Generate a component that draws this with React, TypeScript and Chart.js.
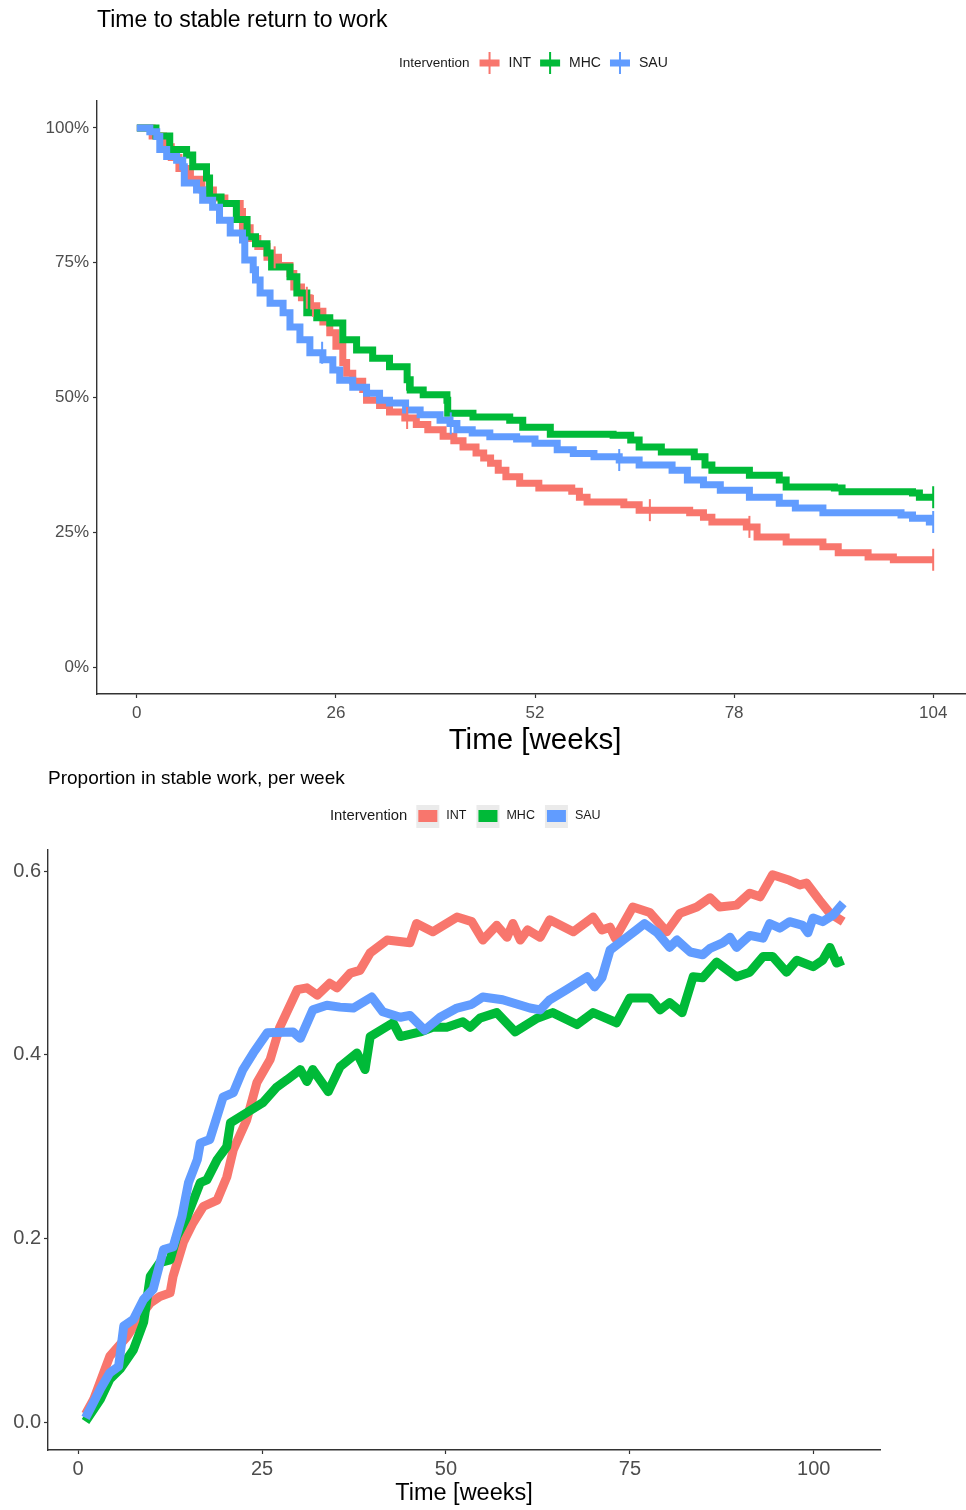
import React, { useEffect, useRef } from 'react';
import { Chart, registerables } from 'chart.js';

Chart.register(...registerables);

const FONT = '"Liberation Sans", Arial, Helvetica, sans-serif';

const GROUPS = ['INT', 'MHC', 'SAU'];
const COLORS = ['#F8766D', '#00BA38', '#619CFF'];

// ---------- Top chart: Kaplan-Meier, time to stable return to work ----------
const kmIntWeeks = [0, 2, 3.5, 4.5, 5.5, 7, 8.5, 10, 11.5, 13.5, 13.8, 14.8, 15.8, 17, 18.5, 20, 20.5, 21.5, 22.5, 23.5, 24.3, 25.2, 26, 26.9, 27.4, 28.2, 29.5, 30, 31.7, 33, 35, 36.5, 38, 40, 41.4, 42.6, 44.3, 45.3, 46.2, 47.2, 48.2, 50, 52.5, 56.8, 57.8, 58.8, 63.6, 65.6, 72.2, 74, 75.1, 79.6, 81, 84.8, 89.6, 91.6, 95.5, 98.8, 104];
const kmIntSurv = [100, 98.5, 96.5, 94.5, 92.5, 90.5, 88.5, 87, 86, 84.5, 81.5, 79.5, 78, 76, 74.5, 73, 70.5, 68.5, 67, 66, 64, 62, 59.5, 56.5, 54.5, 53, 51.5, 49.5, 48.5, 47.3, 46.2, 45, 44, 42.8, 42, 40.8, 39.7, 38.8, 37.8, 36.5, 35.3, 34.1, 33.2, 32.6, 31.5, 30.6, 30.1, 29.1, 28.6, 27.8, 26.9, 26, 24.1, 23.2, 22.3, 21.2, 20.4, 19.9, 19.9];
const kmMhcWeeks = [0, 2.5, 4.3, 6.5, 7.3, 9.1, 9.5, 11, 13, 14.4, 15.5, 17, 17.6, 20, 20.9, 22.2, 23.5, 25.2, 26.9, 28.7, 30.8, 33, 35.3, 35.7, 37.4, 40.5, 40.6, 43.9, 48.7, 50.4, 54, 62.2, 64.5, 65.6, 68.5, 72.8, 74.2, 75.1, 80, 83.9, 84.8, 91.1, 92.1, 101.3, 102.2, 104];
const kmMhcSurv = [100, 98.5, 96, 95, 92.8, 90.7, 87.2, 86, 83, 79.8, 78.5, 76.8, 74.2, 72.4, 69.4, 65.7, 64.8, 63.8, 60.7, 58.8, 57.3, 55.7, 53.3, 51.4, 50.5, 49.5, 47.1, 46.4, 45.8, 44.5, 43.2, 43, 42.1, 40.8, 39.9, 39, 37.5, 36.5, 35.6, 34.7, 33.4, 33.2, 32.5, 32.3, 31.5, 31.5];
const kmSauWeeks = [0, 1.7, 2.6, 3, 3.9, 5.2, 6, 6.2, 7.8, 8.6, 9.9, 10.8, 12.2, 13.8, 14.1, 15.2, 15.5, 16.1, 17.4, 19.1, 20, 21.3, 22.6, 24.3, 25.6, 26.5, 28.2, 30, 31.7, 33, 35.1, 37, 39.6, 40.9, 41.8, 43.8, 46.1, 49.6, 52, 54.9, 57, 59.7, 63, 65.6, 69.9, 71.9, 74, 76.2, 80, 83.9, 86, 89.6, 99.8, 101.3, 103.5, 104];
const kmSauSurv = [100, 99.3, 98.4, 96, 94.7, 94, 92.8, 89.8, 88.5, 86.6, 85.3, 82.9, 80.5, 79.2, 75.5, 73.7, 71.8, 69.4, 67.5, 65.7, 63.1, 60.7, 58.3, 57, 55.1, 53.2, 51.9, 50.8, 49.5, 49, 47.7, 46.8, 45.8, 45.2, 44, 43.4, 42.7, 42.3, 41.5, 40.3, 39.6, 39, 38.4, 37.5, 36.5, 34.7, 33.8, 32.8, 31.5, 30.4, 29.5, 28.6, 28.2, 27.6, 26.9, 26.9];

// censoring times (weeks)
const kmIntCensored = [18, 22.2, 23, 35.3, 67, 80, 104];
const kmMhcCensored = [35.3, 104];
const kmSauCensored = [24.2, 41, 63, 104];

const kmTicksX = [0, 26, 52, 78, 104];
const kmTicksY = [0, 25, 50, 75, 100];

// ---------- Bottom chart: proportion in stable work per week ----------
const propIntWeeks = [1, 2.1, 4.3, 6.6, 8.4, 9.8, 11.1, 12.5, 12.9, 14.3, 15.6, 17, 18.9, 20.2, 21.1, 22.9, 24.3, 26.1, 27.4, 29.8, 31.1, 32.5, 34.2, 35.2, 37, 38.3, 39.7, 42, 45.1, 46, 48.2, 51.5, 53.5, 55, 56.9, 58.3, 59.1, 60.1, 61.1, 62.8, 64.1, 67.3, 70, 71.2, 72.3, 73, 75.4, 77.7, 80, 81.8, 84.1, 85.9, 87.2, 89.5, 91.3, 92.7, 94.4, 96.7, 98.1, 99, 100.8, 102.2, 104];
const propIntValues = [0.009, 0.025, 0.072, 0.093, 0.115, 0.13, 0.137, 0.141, 0.159, 0.196, 0.217, 0.235, 0.242, 0.267, 0.297, 0.329, 0.37, 0.395, 0.43, 0.471, 0.473, 0.465, 0.478, 0.473, 0.489, 0.492, 0.511, 0.525, 0.522, 0.543, 0.534, 0.55, 0.545, 0.525, 0.541, 0.528, 0.543, 0.525, 0.536, 0.528, 0.547, 0.534, 0.55, 0.536, 0.539, 0.527, 0.561, 0.555, 0.534, 0.554, 0.561, 0.571, 0.561, 0.563, 0.576, 0.572, 0.596, 0.59, 0.585, 0.587, 0.568, 0.554, 0.545];
const propMhcWeeks = [1, 3, 4.3, 5.7, 7.5, 8.9, 9.8, 11.1, 12.5, 13.4, 14.8, 16.6, 17.5, 18.9, 20.2, 20.7, 22.9, 25.1, 27, 28.4, 30.2, 31.1, 31.9, 34, 35.6, 37.9, 39, 39.7, 42.8, 43.8, 46.5, 48.2, 50.1, 52.3, 53.3, 54.6, 56.9, 59.4, 62.4, 64.5, 67.8, 70, 73.2, 75, 77.7, 79.1, 80.4, 82.1, 83.6, 84.9, 86.8, 89.5, 91.3, 93.1, 94.4, 96.3, 97.7, 99.9, 101.2, 102.2, 103.1, 104];
const propMhcValues = [0.001, 0.025, 0.047, 0.058, 0.079, 0.109, 0.159, 0.174, 0.177, 0.202, 0.224, 0.261, 0.264, 0.286, 0.3, 0.326, 0.337, 0.348, 0.365, 0.373, 0.384, 0.371, 0.384, 0.36, 0.387, 0.402, 0.384, 0.42, 0.435, 0.42, 0.425, 0.43, 0.43, 0.436, 0.43, 0.44, 0.446, 0.425, 0.44, 0.446, 0.433, 0.446, 0.435, 0.462, 0.462, 0.449, 0.457, 0.446, 0.485, 0.484, 0.501, 0.485, 0.49, 0.507, 0.507, 0.49, 0.503, 0.496, 0.503, 0.517, 0.5, 0.503];
const propSauWeeks = [1, 3, 4.3, 5.5, 6.2, 7.5, 8.9, 10.2, 11.6, 12.9, 14.1, 15, 16.2, 16.6, 17.9, 19.7, 21.1, 22.4, 23.8, 25.7, 29.2, 30.2, 31.9, 33.8, 35.6, 37.4, 39.9, 41.4, 43.8, 45.1, 47.1, 49.2, 51.5, 53.5, 55, 57.7, 61.4, 62.8, 64.1, 66.4, 69.2, 70.2, 71.2, 72.3, 74.1, 75.9, 77, 78.7, 80.4, 81.4, 83.2, 84.9, 85.9, 87.6, 88.6, 89.5, 91.3, 93.1, 94, 95.4, 96.7, 98.5, 99.2, 99.9, 101.2, 102.6, 104];
const propSauValues = [0.005, 0.036, 0.054, 0.061, 0.105, 0.112, 0.134, 0.145, 0.188, 0.191, 0.224, 0.261, 0.286, 0.304, 0.308, 0.354, 0.359, 0.384, 0.402, 0.424, 0.425, 0.418, 0.449, 0.454, 0.452, 0.451, 0.463, 0.447, 0.441, 0.443, 0.427, 0.441, 0.451, 0.455, 0.463, 0.46, 0.451, 0.449, 0.46, 0.471, 0.485, 0.474, 0.484, 0.514, 0.525, 0.536, 0.543, 0.533, 0.517, 0.525, 0.512, 0.509, 0.516, 0.522, 0.528, 0.517, 0.53, 0.527, 0.543, 0.538, 0.545, 0.541, 0.533, 0.549, 0.545, 0.552, 0.565];

const propTicksX = [0, 25, 50, 75, 100];
const propTicksY = [0, 0.2, 0.4, 0.6];

// ---------- helpers ----------
const kmWeeks = [kmIntWeeks, kmMhcWeeks, kmSauWeeks];
const kmSurv = [kmIntSurv, kmMhcSurv, kmSauSurv];
const kmCensored = [kmIntCensored, kmMhcCensored, kmSauCensored];
const propWeeks = [propIntWeeks, propMhcWeeks, propSauWeeks];
const propValues = [propIntValues, propMhcValues, propSauValues];

function survAt(weeks: number[], surv: number[], t: number) {
  let v = surv[0];
  for (let i = 0; i < weeks.length; i++) if (weeks[i] <= t) v = surv[i];
  return v;
}

const TICK_COLOR = '#4d4d4d';
const AXIS_COLOR = '#333333';

function axisCommon(fontSize: number, padding: number) {
  return {
    grid: { display: true, drawOnChartArea: false, drawTicks: true, tickLength: 4, tickColor: AXIS_COLOR, tickWidth: 1.2 },
    border: { display: true, color: AXIS_COLOR, width: 1.4 },
    ticks: { font: { family: FONT, size: fontSize }, color: TICK_COLOR, padding, maxRotation: 0, autoSkip: false },
  };
}

const topTextPlugin = {
  id: 'topText',
  afterDraw(chart: any) {
    const ctx = chart.ctx;
    ctx.save();
    ctx.fillStyle = '#000';
    ctx.textBaseline = 'middle';
    ctx.font = `23px ${FONT}`;
    ctx.fillText('Time to stable return to work', 97, 21);
    const y = 63;
    let x = 399;
    ctx.font = `13.5px ${FONT}`;
    ctx.fillStyle = '#1a1a1a';
    ctx.fillText('Intervention', x, y);
    x += ctx.measureText('Intervention').width + 10;
    ctx.font = `14px ${FONT}`;
    GROUPS.forEach((g, i) => {
      ctx.fillStyle = COLORS[i];
      ctx.fillRect(x, y - 3.5, 20, 7);
      ctx.fillRect(x + 9, y - 11, 2, 22);
      x += 29;
      ctx.fillStyle = '#1a1a1a';
      ctx.fillText(g, x, y);
      x += ctx.measureText(g).width + 9;
    });
    ctx.restore();
  },
};

const bottomTextPlugin = {
  id: 'bottomText',
  afterDraw(chart: any) {
    const ctx = chart.ctx;
    ctx.save();
    ctx.fillStyle = '#000';
    ctx.textBaseline = 'middle';
    ctx.font = `19px ${FONT}`;
    ctx.fillText('Proportion in stable work, per week', 48, 19);
    const y = 56;
    let x = 330;
    ctx.font = `14.8px ${FONT}`;
    ctx.fillStyle = '#1a1a1a';
    ctx.fillText('Intervention', x, y);
    x += ctx.measureText('Intervention').width + 9;
    ctx.font = `12.5px ${FONT}`;
    GROUPS.forEach((g, i) => {
      ctx.fillStyle = '#ebebeb';
      ctx.fillRect(x, y - 11, 23, 23);
      ctx.fillStyle = COLORS[i];
      ctx.fillRect(x + 2, y - 6, 19, 12);
      x += 30;
      ctx.fillStyle = '#1a1a1a';
      ctx.fillText(g, x, y);
      x += ctx.measureText(g).width + 10;
    });
    ctx.restore();
  },
};

function makeTopConfig(): any {
  const lines = GROUPS.map((g, i) => ({
    type: 'line',
    label: g,
    data: kmWeeks[i].map((w, j) => ({ x: w, y: kmSurv[i][j] })),
    borderColor: COLORS[i],
    backgroundColor: COLORS[i],
    borderWidth: 7,
    stepped: true,
    pointRadius: 0,
    fill: false,
    borderCapStyle: 'butt',
    borderJoinStyle: 'miter',
    order: 3 - i,
  }));
  const censors = GROUPS.map((g, i) => ({
    type: 'line',
    label: g + ' censored',
    data: kmCensored[i].map((t) => ({ x: t, y: survAt(kmWeeks[i], kmSurv[i], t) })),
    showLine: false,
    pointStyle: 'line',
    rotation: 90,
    pointRadius: 11,
    pointBorderWidth: 2,
    pointBorderColor: COLORS[i],
    borderColor: COLORS[i],
    backgroundColor: COLORS[i],
    order: 0,
  }));
  const xa = axisCommon(17, 5);
  const ya = axisCommon(17, 4);
  return {
    type: 'line',
    data: { datasets: [...lines, ...censors] },
    options: {
      animation: false,
      responsive: false,
      devicePixelRatio: 1,
      layout: { padding: { top: 101, right: 2, left: 0, bottom: 0 } },
      plugins: { legend: { display: false }, tooltip: { enabled: false }, title: { display: false } },
      scales: {
        x: {
          type: 'linear', min: -5.2, max: 109.2, ...xa,
          afterBuildTicks: (axis: any) => { axis.ticks = kmTicksX.map((v) => ({ value: v })); },
          afterFit: (s: any) => { s.height = 66; s.paddingLeft = 0; s.paddingRight = 0; },
          title: { display: true, text: 'Time [weeks]', color: '#000', font: { family: FONT, size: 29.5 }, padding: { top: 0, bottom: 1 } },
        },
        y: {
          type: 'linear', min: -5, max: 105, ...ya,
          ticks: { ...ya.ticks, callback: (v: any) => v + '%' },
          afterBuildTicks: (axis: any) => { axis.ticks = kmTicksY.map((v) => ({ value: v })); },
          afterFit: (s: any) => { s.width = 97; s.paddingTop = 0; s.paddingBottom = 0; },
        },
      },
    },
    plugins: [topTextPlugin],
  };
}

function makeBottomConfig(): any {
  const lines = GROUPS.map((g, i) => ({
    type: 'line',
    label: g,
    data: propWeeks[i].map((w, j) => ({ x: w, y: propValues[i][j] })),
    borderColor: COLORS[i],
    backgroundColor: COLORS[i],
    borderWidth: 9,
    pointRadius: 0,
    fill: false,
    tension: 0,
    borderCapStyle: 'butt',
    borderJoinStyle: 'round',
    order: 3 - i,
  }));
  const xa = axisCommon(20, 3);
  const ya = axisCommon(20, 3);
  return {
    type: 'line',
    data: { datasets: lines },
    options: {
      animation: false,
      responsive: false,
      devicePixelRatio: 1,
      layout: { padding: { top: 90, right: 86, left: 0, bottom: 0 } },
      plugins: { legend: { display: false }, tooltip: { enabled: false }, title: { display: false } },
      scales: {
        x: {
          type: 'linear', min: -4.1, max: 109, ...xa,
          afterBuildTicks: (axis: any) => { axis.ticks = propTicksX.map((v) => ({ value: v })); },
          afterFit: (s: any) => { s.height = 60; s.paddingLeft = 0; s.paddingRight = 0; },
          title: { display: true, text: 'Time [weeks]', color: '#000', font: { family: FONT, size: 23.5 }, padding: { top: 0, bottom: 2 } },
        },
        y: {
          type: 'linear', min: -0.03, max: 0.623, ...ya,
          ticks: { ...ya.ticks, callback: (v: any) => Number(v).toFixed(1) },
          afterBuildTicks: (axis: any) => { axis.ticks = propTicksY.map((v) => ({ value: v })); },
          afterFit: (s: any) => { s.width = 48; },
        },
      },
    },
    plugins: [bottomTextPlugin],
  };
}

function ChartCanvas({ makeConfig, width, height }: { makeConfig: () => any; width: number; height: number }) {
  const ref = useRef<HTMLCanvasElement>(null);
  useEffect(() => {
    const chart = new Chart(ref.current as HTMLCanvasElement, makeConfig());
    return () => chart.destroy();
  }, []);
  return (
    <div style={{ width, height, position: 'relative' }}>
      <canvas ref={ref} width={width} height={height} style={{ display: 'block', width, height }} />
    </div>
  );
}

export default function App() {
  return (
    <div style={{ position: 'absolute', left: 0, top: 0, width: 966, height: 1510, background: '#fff', overflow: 'hidden' }}>
      <ChartCanvas makeConfig={makeTopConfig} width={986} height={760} />
      <ChartCanvas makeConfig={makeBottomConfig} width={966} height={750} />
    </div>
  );
}
